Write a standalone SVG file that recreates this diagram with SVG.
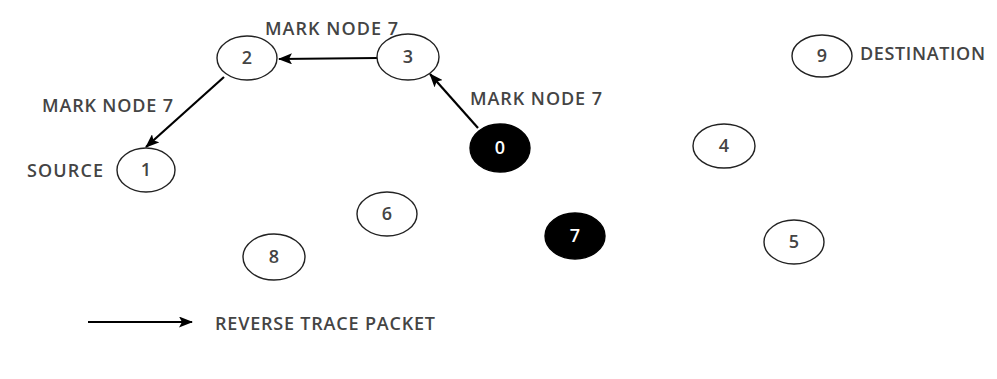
<svg xmlns="http://www.w3.org/2000/svg" width="997" height="379" viewBox="0 0 997 379">
<defs>
<marker id="ah" markerWidth="14" markerHeight="11" refX="13" refY="5.5" orient="auto" markerUnits="userSpaceOnUse">
<path d="M0,0 L14,5.5 L0,11 L3,5.5 Z" fill="#000"/>
</marker>
<style>
.n{fill:#fff;stroke:#222;stroke-width:1.4}
.b{fill:#000;stroke:#000;stroke-width:1.4}
.t{font-family:"Open Sans","Liberation Sans",sans-serif;font-size:18px;font-weight:600;fill:#444}
.nt{font-family:"Open Sans","Liberation Sans",sans-serif;font-size:18px;font-weight:600;fill:#444;text-anchor:middle}
.wt{font-family:"Open Sans","Liberation Sans",sans-serif;font-size:18px;font-weight:600;fill:#fff;text-anchor:middle}
.c{stroke:#000;stroke-width:2.2;fill:none;marker-end:url(#ah)}
</style>
</defs>
<rect width="997" height="379" fill="#fff"/>
<g id="connectors">
<line class="c" x1="378" y1="58" x2="279" y2="59"/>
<line class="c" x1="224" y1="77" x2="146" y2="147"/>
<line class="c" x1="478" y1="128" x2="430" y2="74"/>
<line class="c" x1="88" y1="322" x2="192" y2="322"/>
</g>
<g id="node0"><ellipse class="b" cx="500" cy="148" rx="30" ry="24"/><text class="wt" x="500" y="154">0</text></g>
<g id="node1"><ellipse class="n" cx="146" cy="170" rx="29" ry="22"/><text class="nt" x="146" y="176">1</text></g>
<g id="node2"><ellipse class="n" cx="247" cy="58" rx="30" ry="22"/><text class="nt" x="247" y="64">2</text></g>
<g id="node3"><ellipse class="n" cx="408" cy="57" rx="31" ry="23"/><text class="nt" x="408" y="63">3</text></g>
<g id="node4"><ellipse class="n" cx="724" cy="146" rx="31" ry="22"/><text class="nt" x="724" y="152">4</text></g>
<g id="node5"><ellipse class="n" cx="794" cy="242" rx="30" ry="22"/><text class="nt" x="794" y="248">5</text></g>
<g id="node6"><ellipse class="n" cx="387" cy="214" rx="30" ry="22"/><text class="nt" x="387" y="220">6</text></g>
<g id="node7"><ellipse class="b" cx="575" cy="236" rx="30" ry="23"/><text class="wt" x="575" y="242">7</text></g>
<g id="node8"><ellipse class="n" cx="274" cy="257" rx="31" ry="23"/><text class="nt" x="274" y="263">8</text></g>
<g id="node9"><ellipse class="n" cx="822" cy="56" rx="30" ry="21"/><text class="nt" x="822" y="62">9</text></g>
<g id="labels">
<text class="t" x="265" y="35" textLength="133" lengthAdjust="spacing">MARK NODE 7</text>
<text class="t" x="42" y="112" textLength="131" lengthAdjust="spacing">MARK NODE 7</text>
<text class="t" x="470" y="105" textLength="132" lengthAdjust="spacing">MARK NODE 7</text>
<text class="t" x="27" y="177" textLength="76" lengthAdjust="spacing">SOURCE</text>
<text class="t" x="860" y="60" textLength="125" lengthAdjust="spacing">DESTINATION</text>
<text class="t" x="215" y="330" textLength="220" lengthAdjust="spacing">REVERSE TRACE PACKET</text>
</g>
</svg>
